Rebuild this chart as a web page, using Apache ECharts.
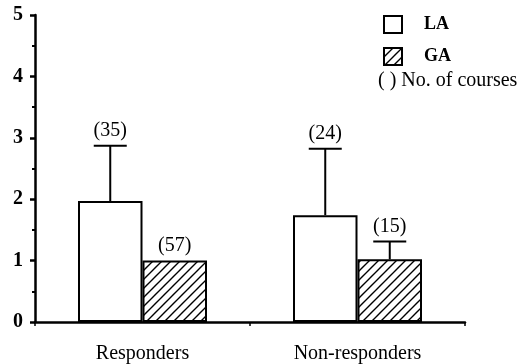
<!DOCTYPE html>
<html><head><meta charset="utf-8">
<script src="https://cdn.jsdelivr.net/npm/echarts@6/dist/echarts.min.js"></script>
<style>html,body{margin:0;padding:0;background:#fff}#c{width:524px;height:364px}</style>
</head><body><div id="c"></div>
<script>
const categories = ['Responders', 'Non-responders'];
const seriesNames = ['LA', 'GA'];
const laMean = [1.97, 1.74];
const laUpper = [2.87, 2.82];
const gaMean = [1.0, 1.02];
const gaUpper = [null, 1.31];
const laCourses = ['(35)', '(24)'];
const gaCourses = ['(57)', '(15)'];
const yTicks = [0, 1, 2, 3, 4, 5];

const FONT = "'Liberation Serif','Times New Roman',serif";

function hatch() {
  const s = 9, c = document.createElement('canvas');
  c.width = s; c.height = s;
  const g = c.getContext('2d');
  g.fillStyle = '#fff'; g.fillRect(0, 0, s, s);
  g.strokeStyle = '#000'; g.lineWidth = 1.4;
  g.beginPath();
  g.moveTo(-1, s + 1); g.lineTo(s + 1, -1);
  g.moveTo(-1, 1); g.lineTo(1, -1);
  g.moveTo(s - 1, s + 1); g.lineTo(s + 1, s - 1);
  g.stroke();
  return c;
}
const hatchFill = { image: hatch(), repeat: 'repeat' };

const errData = [];
categories.forEach((c, i) => {
  errData.push([i, laMean[i], laUpper[i] == null ? laMean[i] : laUpper[i], -1, laCourses[i]]);
  errData.push([i, gaMean[i], gaUpper[i] == null ? gaMean[i] : gaUpper[i], 1, gaCourses[i]]);
});

const chart = echarts.init(document.getElementById('c'), null, { renderer: 'canvas' });
chart.setOption({
  animation: false,
  backgroundColor: '#fff',
  grid: { left: 35, right: 59, top: 15, bottom: 41 },
  legend: {
    orient: 'vertical', left: 383, top: 15, padding: 0, itemWidth: 18, itemHeight: 17, itemGap: 13,
    textStyle: { fontFamily: FONT, fontSize: 18, fontWeight: 'bold', color: '#000', padding: [0, 0, 0, 17] },
    data: seriesNames.map(n => ({ name: n, icon: 'rect' }))
  },
  graphic: [{
    type: 'text', left: 378, top: 71,
    style: { text: '( ) No. of courses', font: "20px 'Liberation Serif','Times New Roman',serif", fill: '#000' }
  }],
  xAxis: {
    type: 'category', data: categories, boundaryGap: true,
    axisLine: { lineStyle: { color: '#000', width: 2.5 } },
    axisTick: { show: true, alignWithLabel: false, length: 4, lineStyle: { color: '#000', width: 1.5 } },
    axisLabel: { fontFamily: FONT, fontSize: 20, color: '#000', margin: 22 }
  },
  yAxis: {
    type: 'value', min: 0, max: 5, interval: 1,
    axisLine: { show: true, lineStyle: { color: '#000', width: 2.5 } },
    axisTick: { show: true, length: 5, lineStyle: { color: '#000', width: 2.5 } },
    minorTick: { show: true, splitNumber: 2, length: 3, lineStyle: { color: '#000', width: 2 } },
    splitLine: { show: false },
    axisLabel: { fontFamily: FONT, fontSize: 20, fontWeight: 'bold', color: '#000', margin: 12,
      formatter: v => yTicks.includes(v) ? String(v) : '' }
  },
  series: [
    { name: 'LA', type: 'bar', data: laMean, barWidth: '30%', barGap: '0%',
      itemStyle: { color: '#fff', borderColor: '#000', borderWidth: 2 } },
    { name: 'GA', type: 'bar', data: gaMean, barWidth: '30%', barGap: '0%',
      itemStyle: { color: hatchFill, borderColor: '#000', borderWidth: 2 } },
    { type: 'custom', data: errData, z: 5,
      renderItem: function (params, api) {
        const cat = api.value(0), mean = api.value(1), up = api.value(2), side = api.value(3);
        const band = api.size([1, 0])[0];
        const off = side * band * 0.15;
        const p0 = api.coord([cat, mean]);
        const p1 = api.coord([cat, up]);
        const x = p0[0] + off;
        const children = [];
        const txt = errData[params.dataIndex][4];
        if (up > mean) {
          children.push({ type: 'line', shape: { x1: x, y1: p0[1], x2: x, y2: p1[1] }, style: { stroke: '#000', lineWidth: 2 } });
          children.push({ type: 'line', shape: { x1: x - 16.5, y1: p1[1], x2: x + 16.5, y2: p1[1] }, style: { stroke: '#000', lineWidth: 2 } });
        }
        children.push({ type: 'text', x: x, y: p1[1] - 5,
          style: { text: txt, textAlign: 'center', textVerticalAlign: 'bottom', font: "20px 'Liberation Serif','Times New Roman',serif", fill: '#000' } });
        return { type: 'group', children: children };
      }
    }
  ]
});
</script></body></html>
